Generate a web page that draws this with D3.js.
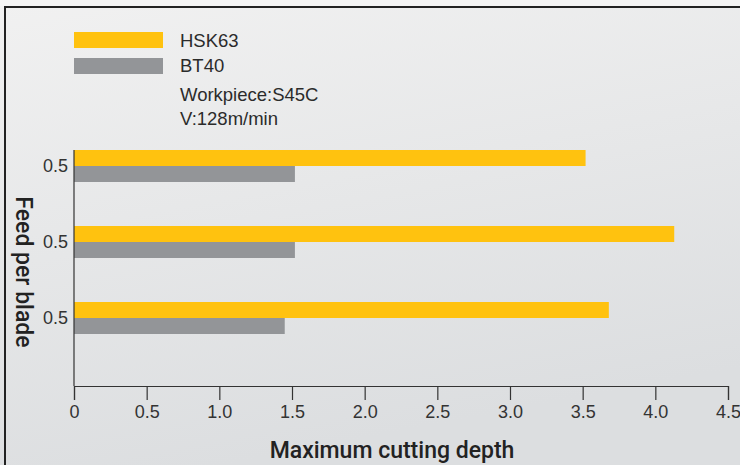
<!DOCTYPE html>
<html lang="en">
<head>
    <meta charset="UTF-8">
    <title>Maximum cutting depth</title>
    <script src="https://d3js.org/d3.v7.min.js"></script>
    <style>
        body {margin: 0; background: #f3f3f3;}
        text {font-family: "Liberation Sans", Arial, sans-serif; fill: #2b2b2b;}
    </style>
</head>
<body>
<div id="chart"></div>
<script>
// Data
var feedLabels = ["0.5", "0.5", "0.5"];
var hsk63 = [3.52, 4.13, 3.68];
var bt40 = [1.52, 1.52, 1.45];
var seriesNames = ["HSK63", "BT40"];
var seriesColors = ["#ffc20f", "#939598"];
var xTicks = [0, 0.5, 1.0, 1.5, 2.0, 2.5, 3.0, 3.5, 4.0, 4.5];
var notes = ["Workpiece:S45C", "V:128m/min"];

var width = 740, height = 465;

var svg = d3.select("#chart").append("svg")
    .attr("width", width)
    .attr("height", height);

// Background gradient
var defs = svg.append("defs");
var grad = defs.append("linearGradient")
    .attr("id", "bg")
    .attr("x1", "0").attr("y1", "0")
    .attr("x2", "0.3").attr("y2", "1");
grad.append("stop").attr("offset", "0").attr("stop-color", "#f1f1f1");
grad.append("stop").attr("offset", "1").attr("stop-color", "#dcdee0");

svg.append("rect")
    .attr("x", 0).attr("y", 0)
    .attr("width", width).attr("height", height)
    .attr("fill", "url(#bg)");

// Frame (top and left lines)
svg.append("rect").attr("x", 0).attr("y", 0).attr("width", width).attr("height", 6).attr("fill", "#f4f4f4");
svg.append("rect").attr("x", 4).attr("y", 6).attr("width", width - 4).attr("height", 2).attr("fill", "#222");
svg.append("rect").attr("x", 4).attr("y", 6).attr("width", 2).attr("height", height - 6).attr("fill", "#222");

// Scales
var xScale = d3.scaleLinear()
    .domain([0, 4.5])
    .range([74, 728]);

var yScale = d3.scaleBand()
    .domain(d3.range(feedLabels.length))
    .range([150, 334])
    .paddingInner(44 / 76)
    .paddingOuter(0);

var subScale = d3.scaleBand()
    .domain(seriesNames)
    .range([0, yScale.bandwidth()]);

var rows = feedLabels.map(function(d, i){
    return {i: i, values: [hsk63[i], bt40[i]]};
});

// Bars
var groups = svg.selectAll("g.row")
    .data(rows)
    .enter()
    .append("g")
    .attr("class", "row")
    .attr("transform", function(d){ return "translate(0," + yScale(d.i) + ")"; });

groups.selectAll("rect")
    .data(function(d){
        return d.values.map(function(v, k){ return {name: seriesNames[k], value: v, k: k}; });
    })
    .enter()
    .append("rect")
    .attr("x", xScale(0))
    .attr("y", function(d){ return subScale(d.name); })
    .attr("width", function(d){ return xScale(d.value) - xScale(0); })
    .attr("height", subScale.bandwidth())
    .attr("fill", function(d){ return seriesColors[d.k]; });

// X axis
var xAxis = d3.axisBottom(xScale)
    .tickValues(xTicks)
    .tickSize(14)
    .tickPadding(5)
    .tickFormat(function(d){ return d === 0 ? "0" : d.toFixed(1); });

var gx = svg.append("g")
    .attr("transform", "translate(0,386)")
    .call(xAxis);
gx.select(".domain").attr("stroke", "#333").attr("stroke-width", 1.2);
gx.selectAll(".tick line").attr("stroke", "#333").attr("stroke-width", 1.2);
gx.selectAll(".tick text")
    .style("font-size", "18px")
    .style("fill", "#333")
    .style("font-family", "'Liberation Sans', Arial, sans-serif");

// Y axis
var yAxis = d3.axisLeft(yScale)
    .tickSize(0)
    .tickPadding(6)
    .tickFormat(function(d){ return feedLabels[d]; });

var gy = svg.append("g")
    .attr("transform", "translate(74,0)")
    .call(yAxis);
gy.select(".domain").remove();
gy.selectAll(".tick text")
    .style("font-size", "18px")
    .style("fill", "#333")
    .style("font-family", "'Liberation Sans', Arial, sans-serif");

svg.append("line")
    .attr("x1", 74).attr("x2", 74)
    .attr("y1", 150).attr("y2", 386)
    .attr("stroke", "#333").attr("stroke-width", 1.2);

// Axis titles
svg.append("text")
    .attr("x", 392)
    .attr("y", 458)
    .attr("text-anchor", "middle")
    .style("font-size", "23px")
    .style("font-weight", "500")
    .style("font-family", "Roboto, 'Liberation Sans', Arial, sans-serif")
    .style("fill", "#222")
    .text("Maximum cutting depth");

svg.append("text")
    .attr("transform", "translate(16,272) rotate(90)")
    .attr("text-anchor", "middle")
    .style("font-size", "23px")
    .style("font-weight", "500")
    .style("font-family", "Roboto, 'Liberation Sans', Arial, sans-serif")
    .style("fill", "#222")
    .text("Feed per blade");

// Legend
var legend = svg.append("g");
seriesNames.forEach(function(name, k){
    legend.append("rect")
        .attr("x", 74)
        .attr("y", 32 + k * 26)
        .attr("width", 89)
        .attr("height", 16)
        .attr("fill", seriesColors[k]);
    legend.append("text")
        .attr("x", 180)
        .attr("y", 40 + k * 25)
        .attr("dy", "0.36em")
        .style("font-size", "18.5px")
        .text(name);
});
notes.forEach(function(note, k){
    legend.append("text")
        .attr("x", 180)
        .attr("y", 94 + k * 24)
        .attr("dy", "0.36em")
        .style("font-size", "18.5px")
        .text(note);
});
</script>
</body>
</html>
